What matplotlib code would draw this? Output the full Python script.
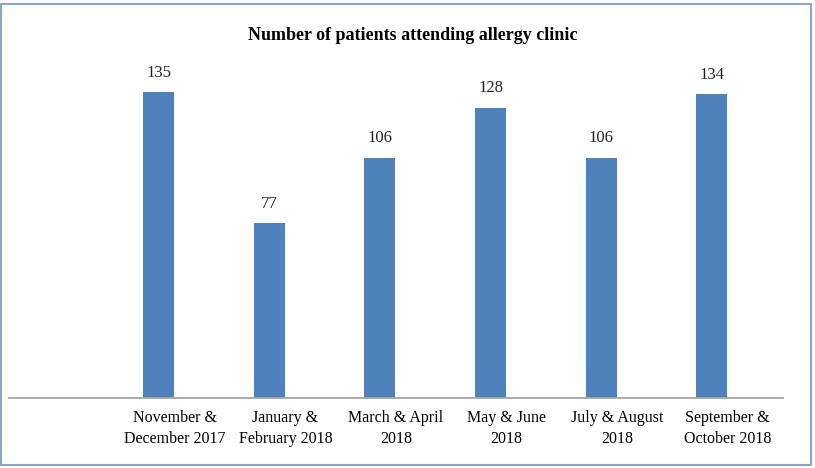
import numpy as np
import matplotlib.pyplot as plt
from matplotlib.patches import Rectangle

plt.rcParams["font.family"] = ["Liberation Serif", "DejaVu Serif"]

categories = [
    "November &\nDecember 2017",
    "January &\nFebruary 2018",
    "March & April\n2018",
    "May & June\n2018",
    "July & August\n2018",
    "September &\nOctober 2018",
]
patients = [135, 77, 106, 128, 106, 134]

BAR_COLOR = "#4F81BD"
FRAME_COLOR = "#8CA5C8"

W, H = 815, 468
fig = plt.figure(figsize=(W / 100, H / 100), dpi=100)

x0, x1 = 9, 783
y_axis, y_top = 398, 35
ax = fig.add_axes([x0 / W, (H - y_axis) / H, (x1 - x0) / W, (y_axis - y_top) / H])

x = np.arange(1, len(categories) + 1)
offset = 0.145   # Balken links versetzt (zweite, leere Serie)
bars = ax.bar(x - offset, patients, width=0.28, color=BAR_COLOR, zorder=2)

for rect, v in zip(bars, patients):
    ax.annotate(str(v), (rect.get_x() + rect.get_width() / 2, v),
                xytext=(0, 8), textcoords="offset points",
                ha="center", va="bottom", fontsize=12, color="#222222")

ax.set_xlim(-0.5, len(categories) + 0.5)
ax.set_ylim(0, 160)
ax.set_xticks(x)
ax.set_xticklabels(categories, fontsize=11.5, linespacing=1.35)
ax.tick_params(axis="x", length=0, pad=9)
ax.set_yticks([])

for s in ["top", "right", "left"]:
    ax.spines[s].set_visible(False)
ax.spines["bottom"].set_color("#A6A6A6")
ax.spines["bottom"].set_linewidth(1.3)

fig.text(413 / W, 1 - 35 / H, "Number of patients attending allergy clinic",
         ha="center", va="center", fontsize=13, fontweight="bold")

# Rahmen um das Diagramm
fig.patches.append(Rectangle((1 / W, 3.5 / H), 810 / W, (465 - 4.5) / H,
                             transform=fig.transFigure, fill=False,
                             edgecolor=FRAME_COLOR, linewidth=1.5))

fig.savefig("out.png", dpi=100)
plt.close()
